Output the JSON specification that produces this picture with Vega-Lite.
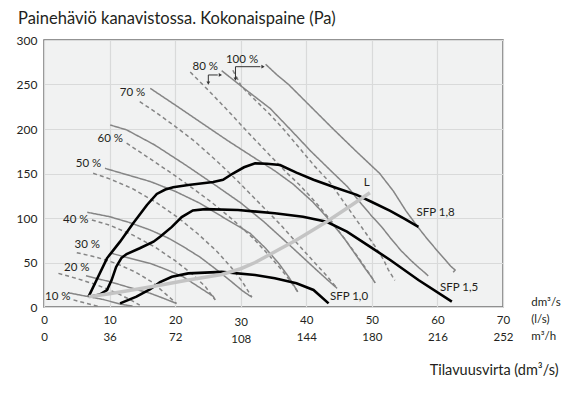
{
  "$schema": "https://vega.github.io/schema/vega-lite/v6.json",
  "width": 459,
  "height": 267,
  "autosize": "none",
  "padding": {"left": 44, "top": 40, "right": 81, "bottom": 91},
  "background": "white",
  "config": {
    "font": "Lato",
    "view": {"fill": "#f1f2f2", "stroke": "#707070", "strokeWidth": 1.5},
    "axis": {"labelColor": "#231f20", "labelFont": "Lato", "titleFont": "Lato", "titleColor": "#231f20", "gridColor": "#d9dada", "gridWidth": 1.2, "ticks": false, "domain": false}
  },
  "title": {"text": "Painehäviö kanavistossa. Kokonaispaine (Pa)", "anchor": "start", "frame": "group", "dx": -26, "fontSize": 16.5, "fontWeight": "normal", "color": "#231f20", "font": "Lato", "baseline": "alphabetic", "offset": -6},
  "datasets": {
    "curves": [
      {"c":"S100","g":"fan","d":"s","i":0,"x":33.8,"y":272.7},{"c":"S100","g":"fan","d":"s","i":1,"x":35.5,"y":261},{"c":"S100","g":"fan","d":"s","i":2,"x":37.3,"y":250},{"c":"S100","g":"fan","d":"s","i":3,"x":40.7,"y":225},{"c":"S100","g":"fan","d":"s","i":4,"x":44.1,"y":200},{"c":"S100","g":"fan","d":"s","i":5,"x":47.6,"y":175},{"c":"S100","g":"fan","d":"s","i":6,"x":51.2,"y":150},{"c":"S100","g":"fan","d":"s","i":7,"x":53.3,"y":130},{"c":"S100","g":"fan","d":"s","i":8,"x":55.2,"y":108},{"c":"S100","g":"fan","d":"s","i":9,"x":57,"y":90},{"c":"S100","g":"fan","d":"s","i":10,"x":58.5,"y":76},{"c":"S100","g":"fan","d":"s","i":11,"x":60,"y":63},{"c":"S100","g":"fan","d":"s","i":12,"x":61.2,"y":53},{"c":"S100","g":"fan","d":"s","i":13,"x":62,"y":46},{"c":"S100","g":"fan","d":"s","i":14,"x":62.7,"y":41.6},{"c":"S100","g":"fan","d":"s","i":15,"x":62.4,"y":39},
      {"c":"S80","g":"fan","d":"s","i":0,"x":27.1,"y":265.5},{"c":"S80","g":"fan","d":"s","i":1,"x":30.1,"y":248},{"c":"S80","g":"fan","d":"s","i":2,"x":34.5,"y":223},{"c":"S80","g":"fan","d":"s","i":3,"x":37.5,"y":200},{"c":"S80","g":"fan","d":"s","i":4,"x":40.7,"y":175},{"c":"S80","g":"fan","d":"s","i":5,"x":43.9,"y":152},{"c":"S80","g":"fan","d":"s","i":6,"x":46.3,"y":135},{"c":"S80","g":"fan","d":"s","i":7,"x":48.5,"y":115},{"c":"S80","g":"fan","d":"s","i":8,"x":50,"y":102},{"c":"S80","g":"fan","d":"s","i":9,"x":51.5,"y":90},{"c":"S80","g":"fan","d":"s","i":10,"x":53,"y":76},{"c":"S80","g":"fan","d":"s","i":11,"x":54.5,"y":63},{"c":"S80","g":"fan","d":"s","i":12,"x":56,"y":52},{"c":"S80","g":"fan","d":"s","i":13,"x":57.2,"y":44},{"c":"S80","g":"fan","d":"s","i":14,"x":58,"y":39},{"c":"S80","g":"fan","d":"s","i":15,"x":58.6,"y":35},
      {"c":"D100","g":"fan","d":"d","i":0,"x":28.8,"y":266},{"c":"D100","g":"fan","d":"d","i":1,"x":30.1,"y":248},{"c":"D100","g":"fan","d":"d","i":2,"x":32,"y":234},{"c":"D100","g":"fan","d":"d","i":3,"x":34.5,"y":216},{"c":"D100","g":"fan","d":"d","i":4,"x":36.5,"y":200},{"c":"D100","g":"fan","d":"d","i":5,"x":38.8,"y":180},{"c":"D100","g":"fan","d":"d","i":6,"x":41.3,"y":158},{"c":"D100","g":"fan","d":"d","i":7,"x":43.6,"y":140},{"c":"D100","g":"fan","d":"d","i":8,"x":46,"y":115},{"c":"D100","g":"fan","d":"d","i":9,"x":48.7,"y":87},{"c":"D100","g":"fan","d":"d","i":10,"x":50.5,"y":68},{"c":"D100","g":"fan","d":"d","i":11,"x":51.8,"y":53},{"c":"D100","g":"fan","d":"d","i":12,"x":52.5,"y":42},{"c":"D100","g":"fan","d":"d","i":13,"x":53,"y":36},{"c":"D100","g":"fan","d":"d","i":14,"x":53.5,"y":30},
      {"c":"D80","g":"fan","d":"d","i":0,"x":22.3,"y":264},{"c":"D80","g":"fan","d":"d","i":1,"x":25,"y":244},{"c":"D80","g":"fan","d":"d","i":2,"x":28,"y":221},{"c":"D80","g":"fan","d":"d","i":3,"x":31,"y":197},{"c":"D80","g":"fan","d":"d","i":4,"x":34.5,"y":170},{"c":"D80","g":"fan","d":"d","i":5,"x":37,"y":151},{"c":"D80","g":"fan","d":"d","i":6,"x":39,"y":137},{"c":"D80","g":"fan","d":"d","i":7,"x":41.5,"y":117},{"c":"D80","g":"fan","d":"d","i":8,"x":44,"y":95},{"c":"D80","g":"fan","d":"d","i":9,"x":46,"y":75},{"c":"D80","g":"fan","d":"d","i":10,"x":47.8,"y":57},{"c":"D80","g":"fan","d":"d","i":11,"x":49.2,"y":42},{"c":"D80","g":"fan","d":"d","i":12,"x":50,"y":33},{"c":"D80","g":"fan","d":"d","i":13,"x":50.5,"y":27},
      {"c":"S70","g":"fan","d":"s","i":0,"x":16.2,"y":245.7},{"c":"S70","g":"fan","d":"s","i":1,"x":20,"y":227},{"c":"S70","g":"fan","d":"s","i":2,"x":24,"y":207},{"c":"S70","g":"fan","d":"s","i":3,"x":28,"y":187},{"c":"S70","g":"fan","d":"s","i":4,"x":32,"y":168},{"c":"S70","g":"fan","d":"s","i":5,"x":35.2,"y":153},{"c":"S70","g":"fan","d":"s","i":6,"x":38,"y":138},{"c":"S70","g":"fan","d":"s","i":7,"x":41,"y":118},{"c":"S70","g":"fan","d":"s","i":8,"x":43.5,"y":98},{"c":"S70","g":"fan","d":"s","i":9,"x":45.8,"y":77},{"c":"S70","g":"fan","d":"s","i":10,"x":47.6,"y":58},{"c":"S70","g":"fan","d":"s","i":11,"x":49,"y":43},{"c":"S70","g":"fan","d":"s","i":12,"x":50,"y":33},{"c":"S70","g":"fan","d":"s","i":13,"x":50.5,"y":27},
      {"c":"S60","g":"fan","d":"s","i":0,"x":10.1,"y":204.5},{"c":"S60","g":"fan","d":"s","i":1,"x":12.6,"y":199},{"c":"S60","g":"fan","d":"s","i":2,"x":16.9,"y":182},{"c":"S60","g":"fan","d":"s","i":3,"x":21.5,"y":160},{"c":"S60","g":"fan","d":"s","i":4,"x":26.1,"y":137},{"c":"S60","g":"fan","d":"s","i":5,"x":30,"y":117},{"c":"S60","g":"fan","d":"s","i":6,"x":33.5,"y":96},{"c":"S60","g":"fan","d":"s","i":7,"x":36.5,"y":76},{"c":"S60","g":"fan","d":"s","i":8,"x":39.3,"y":57},{"c":"S60","g":"fan","d":"s","i":9,"x":41.5,"y":42},{"c":"S60","g":"fan","d":"s","i":10,"x":43.3,"y":30},{"c":"S60","g":"fan","d":"s","i":11,"x":44.7,"y":21},
      {"c":"D70","g":"fan","d":"d","i":0,"x":14.6,"y":230.7},{"c":"D70","g":"fan","d":"d","i":1,"x":16.9,"y":219.5},{"c":"D70","g":"fan","d":"d","i":2,"x":20,"y":203},{"c":"D70","g":"fan","d":"d","i":3,"x":23,"y":186},{"c":"D70","g":"fan","d":"d","i":4,"x":26.5,"y":163},{"c":"D70","g":"fan","d":"d","i":5,"x":29.6,"y":141},{"c":"D70","g":"fan","d":"d","i":6,"x":32.8,"y":117},{"c":"D70","g":"fan","d":"d","i":7,"x":36,"y":93},{"c":"D70","g":"fan","d":"d","i":8,"x":38.8,"y":70},{"c":"D70","g":"fan","d":"d","i":9,"x":41,"y":52},{"c":"D70","g":"fan","d":"d","i":10,"x":43,"y":36},{"c":"D70","g":"fan","d":"d","i":11,"x":44.7,"y":21},
      {"c":"S50","g":"fan","d":"s","i":0,"x":9.3,"y":155.8},{"c":"S50","g":"fan","d":"s","i":1,"x":12,"y":150},{"c":"S50","g":"fan","d":"s","i":2,"x":16.2,"y":141},{"c":"S50","g":"fan","d":"s","i":3,"x":20,"y":130},{"c":"S50","g":"fan","d":"s","i":4,"x":23.8,"y":116.5},{"c":"S50","g":"fan","d":"s","i":5,"x":27.5,"y":100},{"c":"S50","g":"fan","d":"s","i":6,"x":31.4,"y":83},{"c":"S50","g":"fan","d":"s","i":7,"x":33.8,"y":66},{"c":"S50","g":"fan","d":"s","i":8,"x":35.8,"y":49},{"c":"S50","g":"fan","d":"s","i":9,"x":37.3,"y":34},{"c":"S50","g":"fan","d":"s","i":10,"x":38.7,"y":17},
      {"c":"D60","g":"fan","d":"d","i":0,"x":12.6,"y":184},{"c":"D60","g":"fan","d":"d","i":1,"x":16.9,"y":163},{"c":"D60","g":"fan","d":"d","i":2,"x":19.5,"y":150},{"c":"D60","g":"fan","d":"d","i":3,"x":22,"y":137},{"c":"D60","g":"fan","d":"d","i":4,"x":25.5,"y":118},{"c":"D60","g":"fan","d":"d","i":5,"x":28.8,"y":98},{"c":"D60","g":"fan","d":"d","i":6,"x":31.8,"y":78},{"c":"D60","g":"fan","d":"d","i":7,"x":34.2,"y":59},{"c":"D60","g":"fan","d":"d","i":8,"x":36.2,"y":42},{"c":"D60","g":"fan","d":"d","i":9,"x":37.6,"y":29},{"c":"D60","g":"fan","d":"d","i":10,"x":38.7,"y":17},
      {"c":"S40","g":"fan","d":"s","i":0,"x":6.6,"y":106.4},{"c":"S40","g":"fan","d":"s","i":1,"x":10,"y":101.5},{"c":"S40","g":"fan","d":"s","i":2,"x":13,"y":95},{"c":"S40","g":"fan","d":"s","i":3,"x":16.2,"y":86.5},{"c":"S40","g":"fan","d":"s","i":4,"x":18.8,"y":78},{"c":"S40","g":"fan","d":"s","i":5,"x":21.2,"y":68},{"c":"S40","g":"fan","d":"s","i":6,"x":23.8,"y":56},{"c":"S40","g":"fan","d":"s","i":7,"x":26.3,"y":42},{"c":"S40","g":"fan","d":"s","i":8,"x":28.5,"y":29},{"c":"S40","g":"fan","d":"s","i":9,"x":30.3,"y":18},{"c":"S40","g":"fan","d":"s","i":10,"x":31.7,"y":11},
      {"c":"D50","g":"fan","d":"d","i":0,"x":7.5,"y":150.2},{"c":"D50","g":"fan","d":"d","i":1,"x":10,"y":144},{"c":"D50","g":"fan","d":"d","i":2,"x":13.5,"y":133},{"c":"D50","g":"fan","d":"d","i":3,"x":17,"y":118},{"c":"D50","g":"fan","d":"d","i":4,"x":20.5,"y":100},{"c":"D50","g":"fan","d":"d","i":5,"x":23.5,"y":82},{"c":"D50","g":"fan","d":"d","i":6,"x":26.3,"y":63},{"c":"D50","g":"fan","d":"d","i":7,"x":28.5,"y":45},{"c":"D50","g":"fan","d":"d","i":8,"x":30.2,"y":29},{"c":"D50","g":"fan","d":"d","i":9,"x":31.7,"y":11},
      {"c":"S30","g":"fan","d":"s","i":0,"x":10.3,"y":60.3},{"c":"S30","g":"fan","d":"s","i":1,"x":13,"y":55},{"c":"S30","g":"fan","d":"s","i":2,"x":16.2,"y":49},{"c":"S30","g":"fan","d":"s","i":3,"x":18.7,"y":42},{"c":"S30","g":"fan","d":"s","i":4,"x":21.2,"y":34},{"c":"S30","g":"fan","d":"s","i":5,"x":23.5,"y":23},{"c":"S30","g":"fan","d":"s","i":6,"x":25.8,"y":12},{"c":"S30","g":"fan","d":"s","i":7,"x":26.1,"y":8},
      {"c":"D40","g":"fan","d":"d","i":0,"x":7.3,"y":97.8},{"c":"D40","g":"fan","d":"d","i":1,"x":10,"y":92},{"c":"D40","g":"fan","d":"d","i":2,"x":13.5,"y":81},{"c":"D40","g":"fan","d":"d","i":3,"x":17,"y":67},{"c":"D40","g":"fan","d":"d","i":4,"x":20,"y":52},{"c":"D40","g":"fan","d":"d","i":5,"x":22.6,"y":37},{"c":"D40","g":"fan","d":"d","i":6,"x":24.6,"y":23},{"c":"D40","g":"fan","d":"d","i":7,"x":26.1,"y":8},
      {"c":"S20","g":"fan","d":"s","i":0,"x":6.4,"y":35},{"c":"S20","g":"fan","d":"s","i":1,"x":10,"y":28.5},{"c":"S20","g":"fan","d":"s","i":2,"x":13,"y":22},{"c":"S20","g":"fan","d":"s","i":3,"x":16.2,"y":15.4},{"c":"S20","g":"fan","d":"s","i":4,"x":18.5,"y":9},{"c":"S20","g":"fan","d":"s","i":5,"x":20.2,"y":4},
      {"c":"D30","g":"fan","d":"d","i":0,"x":5,"y":61},{"c":"D30","g":"fan","d":"d","i":1,"x":8,"y":56},{"c":"D30","g":"fan","d":"d","i":2,"x":11,"y":49},{"c":"D30","g":"fan","d":"d","i":3,"x":14,"y":39},{"c":"D30","g":"fan","d":"d","i":4,"x":16.5,"y":28},{"c":"D30","g":"fan","d":"d","i":5,"x":18.5,"y":15},{"c":"D30","g":"fan","d":"d","i":6,"x":20.2,"y":4},
      {"c":"S10","g":"fan","d":"s","i":0,"x":3.7,"y":16},{"c":"S10","g":"fan","d":"s","i":1,"x":6.5,"y":12},{"c":"S10","g":"fan","d":"s","i":2,"x":9,"y":8.5},{"c":"S10","g":"fan","d":"s","i":3,"x":11.8,"y":3},{"c":"S10","g":"fan","d":"s","i":4,"x":13.5,"y":1},
      {"c":"D20","g":"fan","d":"d","i":0,"x":2.2,"y":37.8},{"c":"D20","g":"fan","d":"d","i":1,"x":5,"y":32},{"c":"D20","g":"fan","d":"d","i":2,"x":8,"y":25},{"c":"D20","g":"fan","d":"d","i":3,"x":11,"y":16},{"c":"D20","g":"fan","d":"d","i":4,"x":13.2,"y":8},{"c":"D20","g":"fan","d":"d","i":5,"x":14.6,"y":2},
      {"c":"D10","g":"fan","d":"d","i":0,"x":4.5,"y":8},{"c":"D10","g":"fan","d":"d","i":1,"x":6,"y":5},{"c":"D10","g":"fan","d":"d","i":2,"x":7.5,"y":2},{"c":"D10","g":"fan","d":"d","i":3,"x":8.5,"y":0.5},
      {"c":"B18","g":"black","d":"s","i":0,"x":6.8,"y":11.6},{"c":"B18","g":"black","d":"s","i":1,"x":8,"y":30},{"c":"B18","g":"black","d":"s","i":2,"x":9.6,"y":54.7},{"c":"B18","g":"black","d":"s","i":3,"x":11.6,"y":73.4},{"c":"B18","g":"black","d":"s","i":4,"x":13.6,"y":94},{"c":"B18","g":"black","d":"s","i":5,"x":15.7,"y":114.6},{"c":"B18","g":"black","d":"s","i":6,"x":17.2,"y":127},{"c":"B18","g":"black","d":"s","i":7,"x":18.5,"y":132},{"c":"B18","g":"black","d":"s","i":8,"x":19.7,"y":134.5},{"c":"B18","g":"black","d":"s","i":9,"x":22,"y":137},{"c":"B18","g":"black","d":"s","i":10,"x":25.8,"y":140.5},{"c":"B18","g":"black","d":"s","i":11,"x":27.3,"y":143},{"c":"B18","g":"black","d":"s","i":12,"x":28.8,"y":150},{"c":"B18","g":"black","d":"s","i":13,"x":30.5,"y":157},{"c":"B18","g":"black","d":"s","i":14,"x":32.2,"y":161.4},{"c":"B18","g":"black","d":"s","i":15,"x":34,"y":161},{"c":"B18","g":"black","d":"s","i":16,"x":36,"y":159.6},{"c":"B18","g":"black","d":"s","i":17,"x":38.5,"y":151},{"c":"B18","g":"black","d":"s","i":18,"x":41.1,"y":143},{"c":"B18","g":"black","d":"s","i":19,"x":44.5,"y":134},{"c":"B18","g":"black","d":"s","i":20,"x":47.7,"y":126},{"c":"B18","g":"black","d":"s","i":21,"x":50,"y":118},{"c":"B18","g":"black","d":"s","i":22,"x":52.8,"y":108},{"c":"B18","g":"black","d":"s","i":23,"x":55,"y":99},{"c":"B18","g":"black","d":"s","i":24,"x":57.1,"y":90},
      {"c":"B15","g":"black","d":"s","i":0,"x":7,"y":11.6},{"c":"B15","g":"black","d":"s","i":1,"x":8.5,"y":14},{"c":"B15","g":"black","d":"s","i":2,"x":9.6,"y":19},{"c":"B15","g":"black","d":"s","i":3,"x":10.3,"y":30},{"c":"B15","g":"black","d":"s","i":4,"x":11,"y":45},{"c":"B15","g":"black","d":"s","i":5,"x":11.8,"y":55},{"c":"B15","g":"black","d":"s","i":6,"x":12.6,"y":59.5},{"c":"B15","g":"black","d":"s","i":7,"x":14.6,"y":66},{"c":"B15","g":"black","d":"s","i":8,"x":16.7,"y":73.4},{"c":"B15","g":"black","d":"s","i":9,"x":17.7,"y":79},{"c":"B15","g":"black","d":"s","i":10,"x":19.5,"y":90},{"c":"B15","g":"black","d":"s","i":11,"x":21,"y":101},{"c":"B15","g":"black","d":"s","i":12,"x":22.7,"y":108.5},{"c":"B15","g":"black","d":"s","i":13,"x":24.6,"y":110},{"c":"B15","g":"black","d":"s","i":14,"x":29.6,"y":109},{"c":"B15","g":"black","d":"s","i":15,"x":35.2,"y":105.3},{"c":"B15","g":"black","d":"s","i":16,"x":39.5,"y":101.5},{"c":"B15","g":"black","d":"s","i":17,"x":43.1,"y":95.8},{"c":"B15","g":"black","d":"s","i":18,"x":46.2,"y":84.6},{"c":"B15","g":"black","d":"s","i":19,"x":49.7,"y":67.8},{"c":"B15","g":"black","d":"s","i":20,"x":52.8,"y":52.8},{"c":"B15","g":"black","d":"s","i":21,"x":57.1,"y":30.3},{"c":"B15","g":"black","d":"s","i":22,"x":62.2,"y":6},
      {"c":"B10","g":"black","d":"s","i":0,"x":11.6,"y":4.1},{"c":"B10","g":"black","d":"s","i":1,"x":14.1,"y":11.6},{"c":"B10","g":"black","d":"s","i":2,"x":16.2,"y":20},{"c":"B10","g":"black","d":"s","i":3,"x":17.7,"y":28},{"c":"B10","g":"black","d":"s","i":4,"x":19.5,"y":34},{"c":"B10","g":"black","d":"s","i":5,"x":22,"y":37.8},{"c":"B10","g":"black","d":"s","i":6,"x":27.1,"y":39.5},{"c":"B10","g":"black","d":"s","i":7,"x":32.2,"y":36},{"c":"B10","g":"black","d":"s","i":8,"x":35.2,"y":32.2},{"c":"B10","g":"black","d":"s","i":9,"x":38.5,"y":26.6},{"c":"B10","g":"black","d":"s","i":10,"x":41.1,"y":19.1},{"c":"B10","g":"black","d":"s","i":11,"x":43.4,"y":4.1},
      {"c":"L","g":"L","d":"s","i":0,"x":6.8,"y":11.6},{"c":"L","g":"L","d":"s","i":1,"x":10,"y":15},{"c":"L","g":"L","d":"s","i":2,"x":13,"y":18.5},{"c":"L","g":"L","d":"s","i":3,"x":17,"y":23.5},{"c":"L","g":"L","d":"s","i":4,"x":22,"y":30.3},{"c":"L","g":"L","d":"s","i":5,"x":27.1,"y":36.5},{"c":"L","g":"L","d":"s","i":6,"x":30,"y":43},{"c":"L","g":"L","d":"s","i":7,"x":32.2,"y":50},{"c":"L","g":"L","d":"s","i":8,"x":35.2,"y":62},{"c":"L","g":"L","d":"s","i":9,"x":38.5,"y":75.3},{"c":"L","g":"L","d":"s","i":10,"x":43.1,"y":95.8},{"c":"L","g":"L","d":"s","i":11,"x":46.2,"y":111},{"c":"L","g":"L","d":"s","i":12,"x":49.7,"y":128.4}
    ],
    "arrows": [
      {"a":"a80","i":0,"x":25.06,"y":252.5},{"a":"a80","i":1,"x":25.06,"y":260.7},{"a":"a80","i":2,"x":26.5,"y":260.7},
      {"a":"a100","i":0,"x":29.2,"y":257},{"a":"a100","i":1,"x":29.2,"y":270},{"a":"a100","i":2,"x":33.0,"y":270}
    ],
    "heads": [
      {"s":"triangle-down","x":25.06,"y":251.5},{"s":"triangle-right","x":26.9,"y":260.7},
      {"s":"triangle-down","x":29.2,"y":256},{"s":"triangle-right","x":33.4,"y":270}
    ],
    "centerLabels": [
      {"t":"10 %","x":2.1,"y":11.2},{"t":"20 %","x":5.0,"y":43.5},{"t":"30 %","x":6.6,"y":69.7},{"t":"40 %","x":4.85,"y":97.8},{"t":"50 %","x":6.8,"y":160.7},{"t":"60 %","x":10.1,"y":188.4},{"t":"70 %","x":13.5,"y":240},{"t":"80 %","x":24.6,"y":270},{"t":"100 %","x":30.2,"y":277.5},{"t":"L","x":49.2,"y":139.7}
    ],
    "leftLabels": [
      {"t":"SFP 1,8","x":56.8,"y":105.3},{"t":"SFP 1,5","x":60.4,"y":21},{"t":"SFP 1,0","x":43.6,"y":11.6},
      {"t":"dm³/s","x":74.3,"y":4.5},{"t":"(l/s)","x":74.3,"y":-14.6},{"t":"m³/h","x":74.3,"y":-33.7}
    ]
  },
  "encoding": {
    "x": {"field": "x", "type": "quantitative", "scale": {"domain": [0, 70], "nice": false, "zero": false},
      "axis": {"values": [0,10,20,30,40,50,60,70], "grid": true, "labelFontSize": 11.5, "labelLineHeight": 17, "labelFlush": false, "labelOverlap": false, "labelBound": false,
        "labelExpr": "[datum.label, '' + round(datum.value * 3.6)]",
        "labelPadding": {"condition": {"test": "datum.value == 30", "value": 9}, "value": 7},
        "title": "Tilavuusvirta (dm³/s)", "titleFontSize": 14.5, "titleFontWeight": "normal", "titleAnchor": "end", "titleAlign": "right", "titleBaseline": "alphabetic", "titleX": 514, "titleY": 67}},
    "y": {"field": "y", "type": "quantitative", "scale": {"domain": [0, 300], "nice": false, "zero": false},
      "axis": {"values": [0,50,100,150,200,250,300], "grid": true, "labelFontSize": 12, "labelPadding": 7, "labelFlush": false, "labelOverlap": false, "title": null}}
  },
  "layer": [
    {
      "data": {"name": "curves"},
      "transform": [{"filter": "datum.g == 'fan'"}],
      "mark": {"type": "line", "color": "#858585", "strokeWidth": 1.5},
      "encoding": {
        "detail": {"field": "c"},
        "order": {"field": "i", "type": "quantitative"},
        "strokeDash": {"field": "d", "type": "nominal", "scale": {"domain": ["s", "d"], "range": [[1, 0], [4, 3]]}, "legend": null}
      }
    },
    {
      "data": {"name": "curves"},
      "transform": [{"filter": "datum.g == 'black'"}],
      "mark": {"type": "line", "color": "#000000", "strokeWidth": 2.6},
      "encoding": {"detail": {"field": "c"}, "order": {"field": "i", "type": "quantitative"}}
    },
    {
      "data": {"name": "curves"},
      "transform": [{"filter": "datum.g == 'L'"}],
      "mark": {"type": "line", "color": "#c4c4c4", "strokeWidth": 3.5},
      "encoding": {"detail": {"field": "c"}, "order": {"field": "i", "type": "quantitative"}}
    },
    {
      "data": {"name": "arrows"},
      "mark": {"type": "line", "color": "#333333", "strokeWidth": 1},
      "encoding": {"detail": {"field": "a"}, "order": {"field": "i", "type": "quantitative"}}
    },
    {
      "data": {"name": "heads"},
      "mark": {"type": "point", "filled": true, "color": "#333333", "size": 14, "opacity": 1},
      "encoding": {"shape": {"field": "s", "type": "nominal", "scale": null}}
    },
    {
      "data": {"name": "centerLabels"},
      "mark": {"type": "text", "align": "center", "baseline": "middle", "fontSize": 11.5, "color": "#231f20", "font": "Lato"},
      "encoding": {"text": {"field": "t"}}
    },
    {
      "data": {"name": "leftLabels"},
      "mark": {"type": "text", "align": "left", "baseline": "middle", "fontSize": 11.5, "color": "#231f20", "font": "Lato"},
      "encoding": {"text": {"field": "t"}}
    }
  ]
}
